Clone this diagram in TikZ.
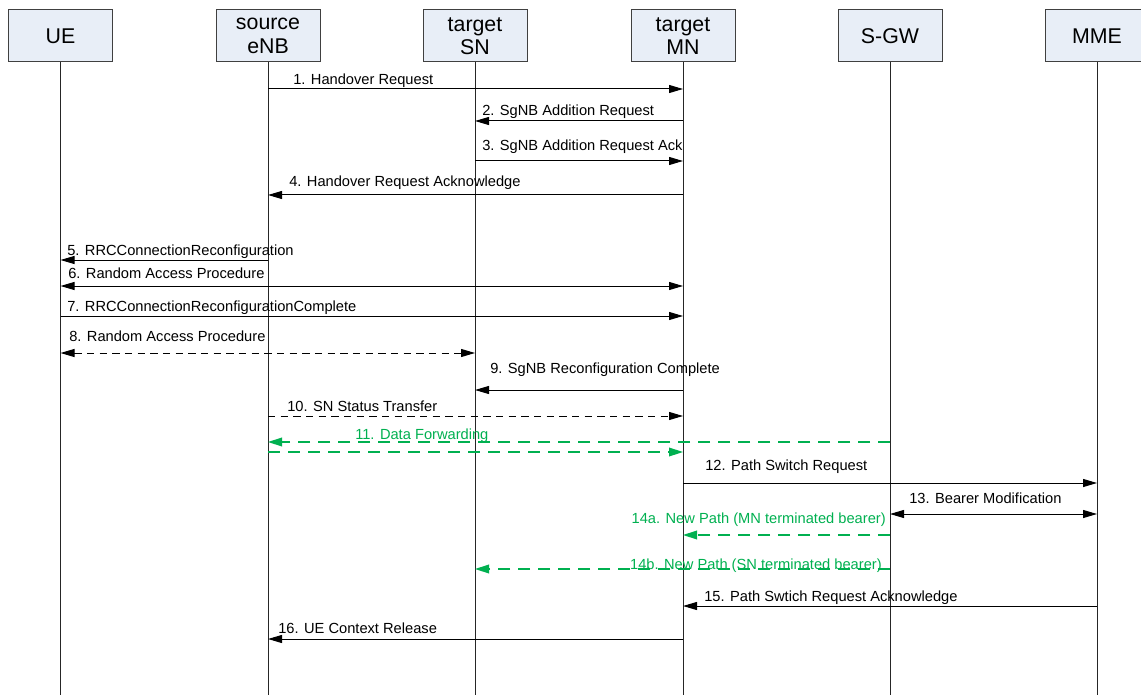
\documentclass[tikz,border=0pt]{standalone}
\usepackage{fontspec}
\setmainfont{Liberation Sans}
\usetikzlibrary{arrows.meta}
\definecolor{boxfill}{RGB}{232,238,247}
\definecolor{fwdgreen}{RGB}{0,176,80}
\tikzset{
    entity/.style={draw=black!75, fill=boxfill, line width=0.75pt, minimum width=78pt, minimum height=39pt,
        inner sep=0pt, align=center, font=\fontsize{16}{17.5}\selectfont},
    lifeline/.style={line width=0.75pt, black!85},
    msg/.style={line width=0.75pt, -{Triangle[length=10.5pt,width=6pt]}},
    twoway/.style={line width=0.75pt, {Triangle[length=10.5pt,width=6pt]}-{Triangle[length=10.5pt,width=6pt]}},
    dashmsg/.style={dash pattern=on 5.5pt off 4pt},
    fwd/.style={line width=1.1pt, fwdgreen, dash pattern=on 9pt off 6pt, -{Triangle[length=10.5pt,width=6.5pt]}},
    lbl/.style={inner sep=0pt, text height=8pt, text depth=2pt, font=\fontsize{11}{13}\selectfont},
    glbl/.style={lbl, text=fwdgreen}
}
\begin{document}
\begin{tikzpicture}[x=0.75pt, y=-0.75pt]
    \useasboundingbox (0,0) rectangle (1141,695);

    % entities
    \node[entity] (UE)  at (60.5,36) {UE};
    \node[entity] (eNB) at (268,36)  {source\\eNB};
    \node[entity] (SN)  at (475,36)  {target\\SN};
    \node[entity] (MN)  at (683,36)  {target\\MN};
    \node[entity] (SGW) at (890,36)  {S-GW};
    \node[entity] (MME) at (1097,36) {MME};

    % lifelines
    \foreach \e in {UE,eNB,SN,MN,SGW,MME}
        \draw[lifeline] (\e.south) -- (\e.south |- 0,700);

    % messages
    \draw[msg] (eNB |- 0,89) -- (MN |- 0,89);
    \node[lbl, anchor=west] (l1) at (293,81) {1. Handover Request};

    \draw[msg] (MN |- 0,121) -- (SN |- 0,121);
    \node[lbl, anchor=west] (l2) at (482,112) {2. SgNB Addition Request};

    \draw[msg] (SN |- 0,161) -- (MN |- 0,161);
    \node[lbl, anchor=west] (l3) at (482,147) {3. SgNB Addition Request Ack};

    \draw[msg] (MN |- 0,195) -- (eNB |- 0,195);
    \node[lbl, anchor=west] (l4) at (289,183) {4. Handover Request Acknowledge};

    \draw[msg] (eNB |- 0,260) -- (UE |- 0,260);
    \node[lbl, anchor=west] (l5) at (67,251) {5. RRCConnectionReconfiguration};

    \draw[twoway] (UE |- 0,286) -- (MN |- 0,286);
    \node[lbl, anchor=west] (l6) at (68,274) {6. Random Access Procedure};

    \draw[msg] (UE |- 0,316) -- (MN |- 0,316);
    \node[lbl, anchor=west] (l7) at (67,307) {7. RRCConnectionReconfigurationComplete};

    \draw[twoway, dashmsg] (UE |- 0,353) -- (SN |- 0,353);
    \node[lbl, anchor=west] (l8) at (69,337) {8. Random Access Procedure};

    \draw[msg] (MN |- 0,390) -- (SN |- 0,390);
    \node[lbl, anchor=west] (l9) at (490,369) {9. SgNB Reconfiguration Complete};

    \draw[msg, dashmsg] (eNB |- 0,416) -- (MN |- 0,416);
    \node[lbl, anchor=west] (l10) at (287,407) {10. SN Status Transfer};

    % data forwarding
    \draw[fwd] (SGW |- 0,442) -- (eNB |- 0,442);
    \draw[fwd] (eNB |- 0,452) -- (MN |- 0,452);
    \node[glbl, anchor=west] (l11) at (355,435) {11. Data Forwarding};

    \draw[msg] (MN |- 0,483) -- (MME |- 0,483);
    \node[lbl, anchor=west] (l12) at (705,466) {12. Path Switch Request};

    \draw[twoway] (SGW |- 0,514) -- (MME |- 0,514);
    \node[lbl, anchor=west] (l13) at (909,499) {13. Bearer Modification};

    \draw[fwd] (SGW |- 0,535) -- (MN |- 0,535);
    \node[glbl, anchor=east] (l14a) at (886,519) {14a. New Path (MN terminated bearer)};

    \draw[fwd] (SGW |- 0,569) -- (SN |- 0,569);
    \node[glbl, anchor=east] (l14b) at (882,565) {14b. New Path (SN terminated bearer)};

    \draw[msg] (MME |- 0,606) -- (MN |- 0,606);
    \node[lbl, anchor=west] (l15) at (704,597) {15. Path Swtich Request Acknowledge};

    \draw[msg] (MN |- 0,639) -- (eNB |- 0,639);
    \node[lbl, anchor=west] (l16) at (278,629) {16. UE Context Release};
\end{tikzpicture}
\end{document}
